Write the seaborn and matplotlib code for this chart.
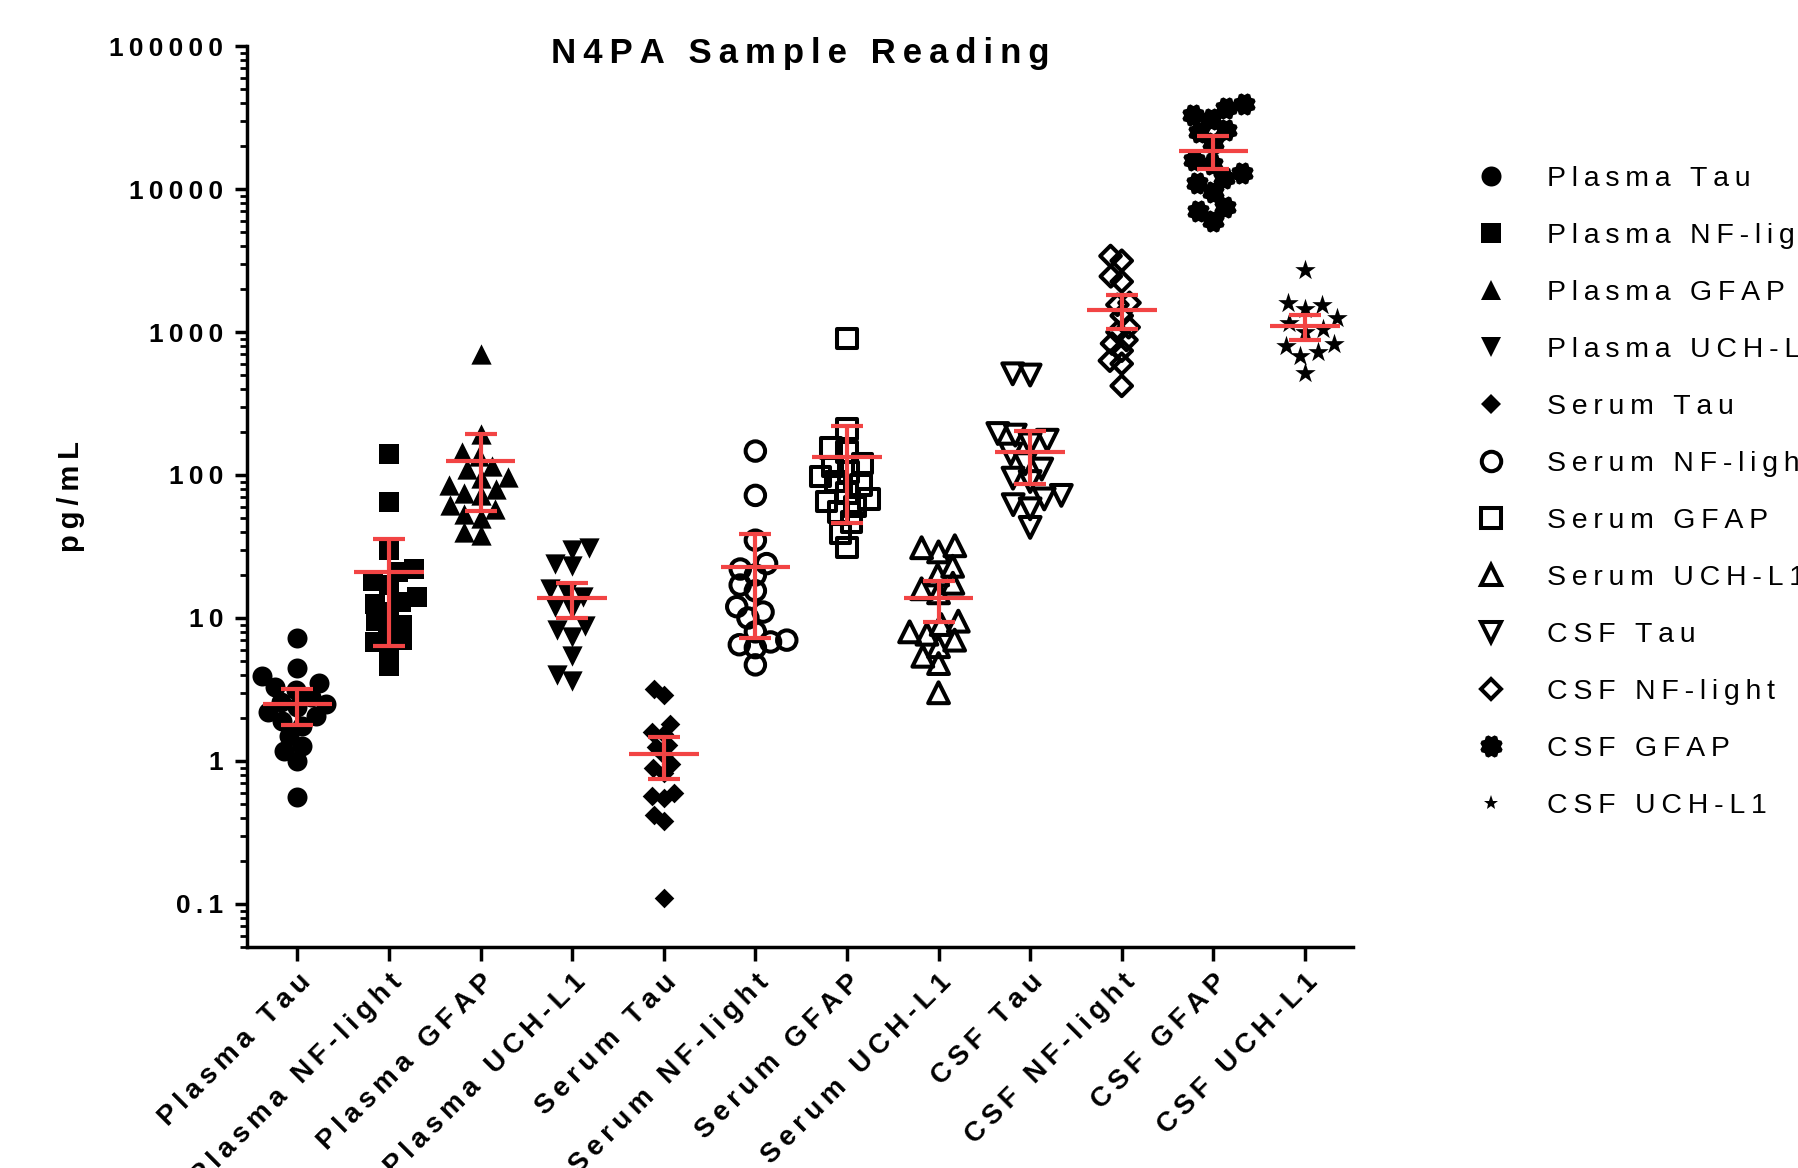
import numpy as np
import matplotlib
matplotlib.use("Agg")
import matplotlib.pyplot as plt
from matplotlib.lines import Line2D
from matplotlib.path import Path
from matplotlib.ticker import LogLocator, NullFormatter
import seaborn as sns

# --- data (pg/mL) ---
categories = ["Plasma Tau", "Plasma NF-light", "Plasma GFAP", "Plasma UCH-L1",
              "Serum Tau", "Serum NF-light", "Serum GFAP", "Serum UCH-L1",
              "CSF Tau", "CSF NF-light", "CSF GFAP", "CSF UCH-L1"]

plasma_tau = [7.2, 4.5, 3.9, 3.5, 3.3, 3.15, 2.8, 2.6, 2.5, 2.4, 2.2, 2.05, 1.9, 1.75, 1.5, 1.28, 1.17, 1.0, 0.56]
plasma_nfl = [140, 65, 30, 22, 21, 18, 17, 14, 13, 12.5, 11, 9.5, 9, 8, 7, 6.8, 6, 4.6]
plasma_gfap = [700, 195, 145, 135, 115, 110, 97, 95, 85, 80, 75, 72, 62, 58, 53, 50, 40, 38]
plasma_uchl1 = [31, 30, 24, 23, 16, 15, 14, 12, 11.5, 8.8, 8.3, 7.4, 5.4, 4.0, 3.6]
serum_tau = [3.2, 2.9, 1.8, 1.6, 1.55, 1.3, 1.25, 1.1, 0.95, 0.9, 0.83, 0.6, 0.57, 0.55, 0.42, 0.38, 0.11]
serum_nfl = [147, 72, 35, 24, 22, 20, 17, 15.5, 12, 11, 10, 8, 7, 6.8, 6.5, 6.2, 4.7]
serum_gfap = [900, 210, 155, 145, 120, 115, 105, 98, 90, 85, 75, 68, 65, 60, 55, 47, 39, 31]
serum_uchl1 = [32, 31, 29, 23, 20, 17.5, 16, 15, 9.5, 9, 8, 7.7, 7, 6.3, 5.4, 4.8, 3.0]
csf_tau = [510, 500, 195, 190, 175, 165, 140, 120, 110, 95, 90, 72, 68, 62, 58, 43]
csf_nfl = [3400, 3150, 2450, 2250, 1600, 1550, 1300, 1080, 1000, 880, 830, 740, 630, 600, 420]
csf_gfap = [39000, 37000, 33000, 31000, 26000, 25000, 21000, 16000, 15000, 13000, 12000, 11000, 9500, 7500, 7000, 6000]
csf_uchl1 = [2700, 1600, 1550, 1450, 1250, 1150, 1050, 1000, 820, 800, 720, 680, 520]

groups = [plasma_tau, plasma_nfl, plasma_gfap, plasma_uchl1,
          serum_tau, serum_nfl, serum_gfap, serum_uchl1,
          csf_tau, csf_nfl, csf_gfap, csf_uchl1]

# mean and 95% CI as drawn in red
mean_vals = [2.5, 20.9, 125, 13.7, 1.12, 22.6, 134, 13.7, 144, 1436, 18400, 1100]
ci_low = [1.79, 6.4, 56, 10, 0.75, 7.2, 45.8, 9.35, 86, 1052, 13800, 885]
ci_high = [3.18, 35.5, 192, 17.5, 1.47, 38.5, 219, 18, 204, 1820, 23500, 1320]

ytick_vals = [0.1, 1, 10, 100, 1000, 10000, 100000]
ytick_labels = ["0.1", "1", "10", "100", "1000", "10000", "100000"]

RED = "#F24444"


def spaced(s, gap="\u2009"):
    # prism-style letter spacing
    return gap.join(s)


# gear-like burst marker used by Prism for CSF GFAP
t = np.linspace(0, 2 * np.pi, 25)[:-1]
r = np.where(np.arange(24) % 3 == 0, 0.82, 1.0)
burst = Path(np.column_stack([r * np.cos(t), r * np.sin(t)]))

styles = [
    dict(marker="o", fill=True, size=14.4, lw=0),
    dict(marker="s", fill=True, size=14.0, lw=0),
    dict(marker="^", fill=True, size=14.6, lw=0),
    dict(marker="v", fill=True, size=14.6, lw=0),
    dict(marker="D", fill=True, size=10.0, lw=0),
    dict(marker="o", fill=False, size=14.0, lw=2.9),
    dict(marker="s", fill=False, size=14.0, lw=2.9),
    dict(marker="^", fill=False, size=15.0, lw=2.9),
    dict(marker="v", fill=False, size=15.0, lw=2.9),
    dict(marker="D", fill=False, size=10.5, lw=2.9),
    dict(marker=burst, fill=True, size=16.0, lw=0),
    dict(marker="*", fill=True, size=15.5, lw=0),
]
LAYOUT = 0.8  # swarm is laid out with smaller dots so they overlap like Prism

sns.set_style("ticks")
plt.rcParams["font.family"] = ["Liberation Sans", "DejaVu Sans"]
for key in ["text.color", "axes.labelcolor", "xtick.color", "ytick.color"]:
    plt.rcParams[key] = "black"

fig = plt.figure(figsize=(17.98, 11.68), dpi=100)
ax = fig.add_axes([0.1374, 0.1892, 0.7525 - 0.1374, 0.9606 - 0.1892])
ax.set_yscale("log")

swarms = []
for cat, vals, st in zip(categories, groups, styles):
    n0 = len(ax.collections)
    sns.swarmplot(x=[cat] * len(vals), y=vals, order=categories, ax=ax,
                  marker=st["marker"], size=st["size"] * LAYOUT, color="black",
                  edgecolor="black", linewidth=0, warn_thresh=1.0, zorder=3)
    # seaborn makes one (possibly empty) collection per category level
    for coll in list(ax.collections)[n0:]:
        if len(coll.get_offsets()) > 0:
            swarms.append((coll, st))

pos = np.arange(len(categories))
ax.hlines(mean_vals, pos - 0.38, pos + 0.38, color=RED, lw=3, zorder=6)
ax.vlines(pos, ci_low, ci_high, color=RED, lw=3, zorder=6)
ax.hlines(ci_low, pos - 0.175, pos + 0.175, color=RED, lw=3, zorder=6)
ax.hlines(ci_high, pos - 0.175, pos + 0.175, color=RED, lw=3, zorder=6)

ax.set_yscale("log")
ax.set_ylim(0.05, 1e5)
ax.set_xlim(-0.55, len(categories) - 1 + 0.525)
ax.set_yticks(ytick_vals)
ax.set_yticklabels([spaced(l) for l in ytick_labels], fontsize=19, fontweight="bold")
ax.yaxis.set_minor_locator(LogLocator(base=10, subs=np.arange(2, 10), numticks=100))
ax.yaxis.set_minor_formatter(NullFormatter())
ax.set_xticks(pos)
ax.set_xticklabels([spaced(c) for c in categories], rotation=45, ha="right",
                   rotation_mode="anchor", fontsize=20, fontweight="bold")
ax.set_xlabel("")
ax.set_ylabel("")

ax.tick_params(axis="y", which="major", length=9, width=2.5, pad=8, color="black")
ax.tick_params(axis="y", which="minor", length=5, width=2, color="black")
ax.tick_params(axis="x", which="major", length=10, width=2.5, pad=6, color="black")
sns.despine(ax=ax)
for side in ["left", "bottom"]:
    ax.spines[side].set_linewidth(2.5)
    ax.spines[side].set_color("black")

fig.text(800 / 1798, 1 - 54 / 1168, spaced("N4PA Sample Reading"),
         ha="center", va="center", fontsize=25, fontweight="bold")
fig.text(71 / 1798, 1 - 497 / 1168, spaced("pg/mL"), rotation=90,
         ha="center", va="center", fontsize=21, fontweight="bold")

handles = []
for st in styles:
    ms = st["size"] if st["marker"] != "*" else 11
    handles.append(Line2D([], [], linestyle="", marker=st["marker"], markersize=ms,
                          markerfacecolor="black" if st["fill"] else "none",
                          markeredgecolor="black", markeredgewidth=st["lw"]))
fig.legend(handles, [spaced(c) for c in categories], loc="upper left",
           bbox_to_anchor=(0.815, 0.8676), frameon=False, fontsize=20.5,
           labelspacing=1.09, handlelength=1.0, handletextpad=1.46,
           borderaxespad=0)

# run the swarm layout once, then freeze it and draw the full-size markers
fig.canvas.draw()
for coll, st in swarms:
    if "draw" in coll.__dict__:
        del coll.draw
    coll.set_sizes([st["size"] ** 2])
    coll.set_linewidth(st["lw"])
    coll.set_edgecolor("black")
    coll.set_facecolor("black" if st["fill"] else "none")

fig.savefig("out.png", dpi=100)
